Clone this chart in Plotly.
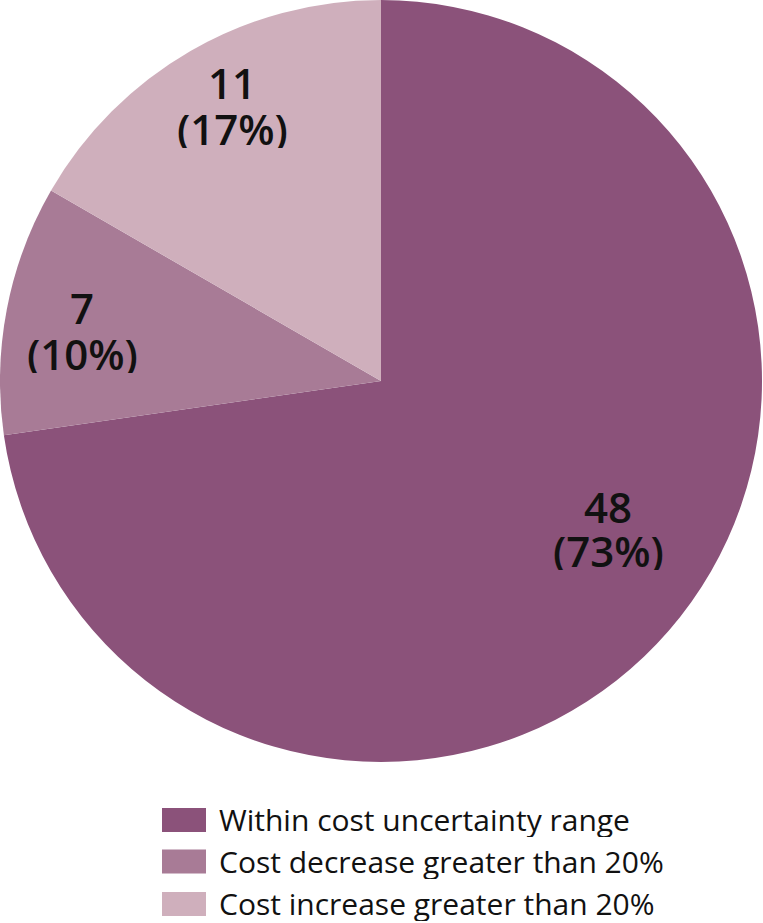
import plotly.graph_objects as go

categories = ["Within cost uncertainty range", "Cost decrease greater than 20%", "Cost increase greater than 20%"]
counts = [48, 7, 11]
pct_labels = ["73%", "10%", "17%"]
colors = ["#8B527A", "#A87B96", "#CFAFBC"]

W, H = 763, 923
D = 762

# label centres (pixels) for each slice: count line and percent line
label_pos = [(608, 508, 552), (82, 309, 355), (232, 84, 130)]

fig = go.Figure()
fig.add_trace(go.Pie(
    labels=categories,
    values=counts,
    textinfo="none",
    marker=dict(colors=colors, line=dict(width=0)),
    sort=False,
    direction="clockwise",
    rotation=0,
    showlegend=False,
    hoverinfo="skip",
    domain=dict(x=[0, D / W], y=[1 - D / H, 1]),
))

lab_font = dict(family="Open Sans", size=42, color="#111111", weight=600)
for c, p, (x, y1, y2) in zip(counts, pct_labels, label_pos):
    fig.add_annotation(xref="paper", yref="paper", x=x / W, y=1 - (y1 - 2) / H,
                       text=str(c), showarrow=False, xanchor="center", yanchor="middle",
                       height=40, font=lab_font)
    fig.add_annotation(xref="paper", yref="paper", x=x / W, y=1 - (y2 - 2) / H,
                       text=f"({p})", showarrow=False, xanchor="center", yanchor="middle",
                       height=40, font=lab_font)

# legend swatches and labels
sw_x0, sw_x1 = 162, 206
rows_y = [820, 861.5, 904]
for cat, col, yc in zip(categories, colors, rows_y):
    fig.add_shape(type="rect", xref="paper", yref="paper",
                  x0=sw_x0 / W, x1=sw_x1 / W,
                  y0=1 - (yc + 12) / H, y1=1 - (yc - 12) / H,
                  fillcolor=col, line=dict(width=0))
    fig.add_annotation(xref="paper", yref="paper", x=217 / W, y=1 - (yc - 1) / H,
                       text=cat, showarrow=False, xanchor="left", yanchor="middle",
                       height=36, font=dict(family="Open Sans", size=30, color="#111111"))

fig.update_layout(
    width=W, height=H,
    margin=dict(l=0, r=0, t=0, b=0),
    paper_bgcolor="white", plot_bgcolor="white",
)
fig.write_html("out.html", config={"displayModeBar": False},
               post_script="document.body.style.margin='0';")
